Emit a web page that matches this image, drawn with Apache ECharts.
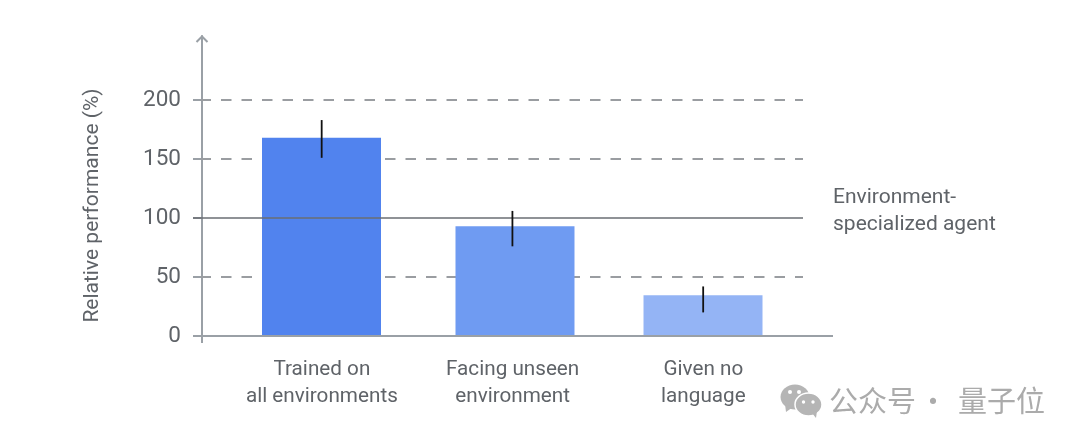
<!DOCTYPE html>
<html><head><meta charset="utf-8">
<style>html,body{margin:0;padding:0;background:#fff}#c{width:1080px;height:445px}</style>
<script src="https://cdn.jsdelivr.net/npm/echarts@6/dist/echarts.min.js"></script></head>
<body><div id="c"></div>
<script>
const categories = ['Trained on\nall environments', 'Facing unseen\nenvironment', 'Given no\nlanguage'];
const performance = [168, 93, 34.5];
const errorLow = [151, 76, 20];
const errorHigh = [183, 106, 42];
const yTicks = [0, 50, 100, 150, 200];
const dashedLevels = [50, 150, 200];
const baselineLevel = [100];
const zeroLevel = [0];

const barColors = ['#5183ee', '#6f9bf2', '#94b4f5'];
const FONT = 'Roboto';
const TEXT = '#5f6368';
const AXIS = '#9aa0a6';
const chart = echarts.init(document.getElementById('c'), null, {renderer: 'canvas'});

function hLine(x0, x1, style) {
  return function (params, api) {
    const y = api.coord([0, api.value(1)])[1];
    return {type: 'line', shape: {x1: x0, y1: y, x2: x1, y2: y}, style: style, silent: true};
  };
}
const toPairs = a => a.map(v => [0, v]);
const colored = (v, i) => ({value: v, itemStyle: {color: barColors[i]}});

chart.setOption({
  animation: false,
  backgroundColor: '#fff',
  textStyle: {fontFamily: FONT},
  grid: {left: 227.5, top: 36, width: 572.25, height: 300},
  xAxis: {
    type: 'category', data: categories,
    axisLine: {show: false}, axisTick: {show: false},
    axisLabel: {color: TEXT, fontFamily: FONT, fontSize: 20.7, lineHeight: 27, margin: 20, padding: [0, 2, 0, 0], interval: 0}
  },
  yAxis: {
    type: 'value', min: 0, max: 254.24, interval: 50, offset: 25.5,
    splitLine: {show: false},
    axisTick: {show: true, length: 9, customValues: yTicks, lineStyle: {color: AXIS, width: 2}},
    axisLine: {show: true, lineStyle: {color: AXIS, width: 2}},
    axisLabel: {color: TEXT, fontFamily: FONT, fontSize: 22.5, margin: 21, padding: [7, 0, 0, 0], customValues: yTicks}
  },
  series: [
    {type: 'custom', coordinateSystem: 'cartesian2d', z: 1, data: toPairs(dashedLevels), encode: {x: 0, y: 1},
     renderItem: hLine(200.5, 803, {stroke: '#9a9da1', lineWidth: 2, lineDash: [10.5, 10], fill: null})},
    {type: 'bar', z: 2, barWidth: 119, barGap: '-97.7%',
     data: performance.map((v, i) => i === 1 ? '-' : colored(v, i))},
    {type: 'bar', z: 2, barWidth: 119,
     data: performance.map((v, i) => i === 1 ? colored(v, i) : '-')},
    {type: 'custom', coordinateSystem: 'cartesian2d', z: 3, data: toPairs(baselineLevel), encode: {x: 0, y: 1},
     renderItem: hLine(193, 803, {stroke: '#6a6e73', lineWidth: 1.6, fill: null})},
    {type: 'custom', coordinateSystem: 'cartesian2d', z: 3, data: toPairs(zeroLevel), encode: {x: 0, y: 1},
     renderItem: hLine(193, 833, {stroke: AXIS, lineWidth: 2, fill: null})},
    {type: 'custom', coordinateSystem: 'cartesian2d', z: 4,
     data: categories.map((c, i) => [i, errorLow[i], errorHigh[i]]), encode: {x: 0, y: [1, 2]},
     renderItem: function (params, api) {
       const a = api.coord([api.value(0), api.value(1)]);
       const b = api.coord([api.value(0), api.value(2)]);
       const x = a[0] - 1.2;
       return {type: 'line', shape: {x1: x, y1: a[1], x2: x, y2: b[1]}, style: {stroke: '#111', lineWidth: 1.8, fill: null}};
     }}
  ],
  graphic: [
    {type: 'polyline', silent: true, shape: {points: [[196.5, 42], [202, 36.5], [207.5, 42]]}, style: {stroke: AXIS, lineWidth: 2, fill: null}},
    {type: 'line', silent: true, shape: {x1: 202, y1: 336, x2: 202, y2: 343}, style: {stroke: AXIS, lineWidth: 2}},
    {type: 'text', x: 93, y: 205.5, rotation: Math.PI / 2, silent: true,
     style: {text: 'Relative performance (%)', fill: TEXT, font: '21px ' + FONT, align: 'center', verticalAlign: 'middle'}},
    {type: 'text', x: 833, y: 211, silent: true,
     style: {text: 'Environment-\nspecialized agent', fill: TEXT, font: '21px ' + FONT, lineHeight: 27, align: 'left', verticalAlign: 'middle'}},
    {type: 'ellipse', silent: true, shape: {cx: 795, cy: 397, rx: 14.5, ry: 12.5}, style: {fill: '#b5b5b5'}},
    {type: 'polygon', silent: true, shape: {points: [[785, 404], [786, 412], [793, 407]]}, style: {fill: '#b5b5b5'}},
    {type: 'ellipse', silent: true, shape: {cx: 808.5, cy: 404.5, rx: 13.5, ry: 11.5}, style: {fill: '#b5b5b5', stroke: '#fff', lineWidth: 1.5}},
    {type: 'polygon', silent: true, shape: {points: [[812, 413], [816, 418], [817, 411]]}, style: {fill: '#b5b5b5'}},
    {type: 'circle', silent: true, shape: {cx: 790, cy: 392, r: 2}, style: {fill: '#fff'}},
    {type: 'circle', silent: true, shape: {cx: 799, cy: 392, r: 2}, style: {fill: '#fff'}},
    {type: 'circle', silent: true, shape: {cx: 803.5, cy: 402, r: 1.7}, style: {fill: '#fff'}},
    {type: 'circle', silent: true, shape: {cx: 813, cy: 402, r: 1.7}, style: {fill: '#fff'}},
    {type: 'text', x: 829, y: 401, silent: true,
     style: {text: '公众号', fill: '#ababab', font: '29px "Noto Sans CJK SC"', align: 'left', verticalAlign: 'middle'}},
    {type: 'text', x: 933, y: 401, silent: true,
     style: {text: '·', fill: '#ababab', font: '29px "Noto Sans CJK SC"', align: 'center', verticalAlign: 'middle'}},
    {type: 'text', x: 1045, y: 401, silent: true,
     style: {text: '量子位', fill: '#ababab', font: '29px "Noto Sans CJK SC"', align: 'right', verticalAlign: 'middle'}}
  ]
});
</script></body></html>
